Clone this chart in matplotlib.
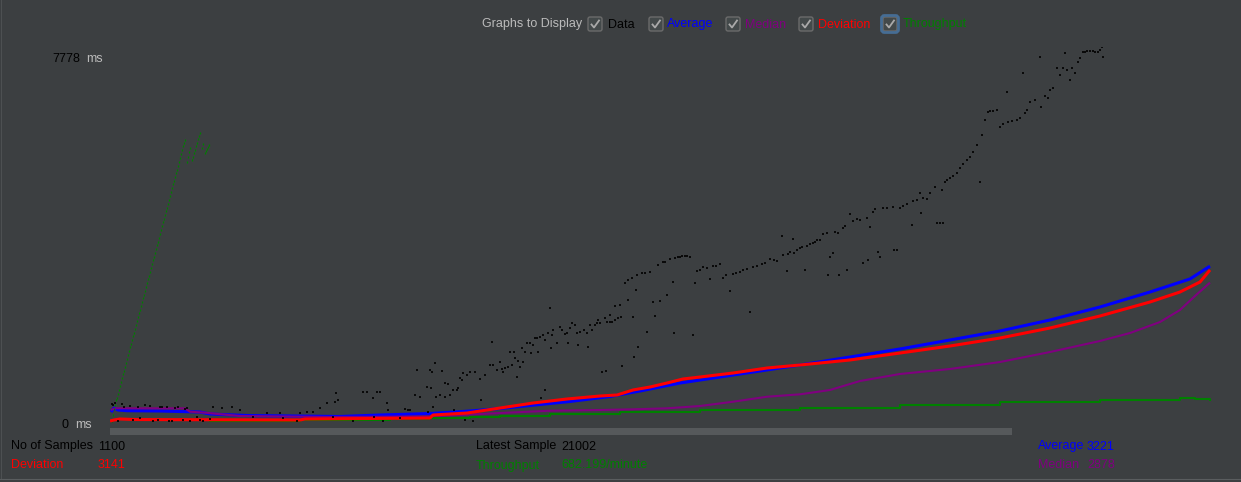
import matplotlib
matplotlib.use("Agg")
import matplotlib.pyplot as plt
from matplotlib.patches import FancyBboxPatch, Rectangle

plt.rcParams['font.family'] = ['Liberation Sans', 'DejaVu Sans']

# ---- data (sample index, response time in ms) ----
y_max = 7778
n_samples = 1100
latest_sample = 21002
throughput_txt = "682.199/minute"
avg_final = 3221
median_final = 2878
dev_final = 3141

data_idx = [2, 3, 5, 8, 12, 14, 20, 23, 28, 30, 35, 40, 43, 48, 50, 52, 57, 59, 62, 65,
            68, 73, 75, 77, 80, 87, 90, 93, 100, 103, 112, 122, 130, 143, 157, 170, 173, 187, 190, 197,
            203, 210, 217, 223, 225, 226, 228, 243, 253, 257, 263, 264, 267, 270, 273, 277, 278, 290, 295, 298,
            300, 305, 307, 310, 317, 318, 320, 321, 322, 323, 325, 326, 330, 332, 335, 338, 340, 343, 344, 347,
            350, 353, 355, 357, 360, 363, 370, 371, 375, 382, 383, 387, 390, 392, 395, 398, 400, 402, 404, 407,
            408, 410, 413, 415, 417, 420, 421, 425, 427, 428, 430, 431, 433, 435, 438, 440, 441, 443, 447, 450,
            455, 457, 458, 462, 465, 467, 468, 470, 477, 478, 482, 485, 487, 490, 492, 495, 496, 497, 500, 502,
            505, 508, 510, 511, 512, 515, 518, 522, 523, 524, 527, 528, 532, 535, 537, 543, 545, 550, 553, 557,
            560, 563, 564, 565, 568, 572, 575, 577, 580, 583, 585, 587, 593, 600, 603, 610, 613, 620, 623, 630,
            637, 640, 647, 655, 660, 667, 672, 673, 677, 678, 683, 684, 690, 692, 695, 697, 700, 703, 707, 710,
            713, 717, 718, 720, 723, 728, 729, 733, 737, 740, 743, 750, 753, 757, 758, 760, 765, 768, 770, 777,
            783, 784, 787, 790, 797, 802, 803, 807, 810, 811, 817, 820, 825, 827, 830, 833, 835, 837, 840, 847,
            853, 860, 867, 870, 872, 878, 880, 883, 887, 890, 897, 898, 907, 913, 915, 920, 930, 931, 938, 943,
            947, 950, 953, 955, 960, 962, 965, 970, 973, 977, 980, 983, 985, 988, 992, 993,
            335, 348, 352, 365, 380, 393, 405, 412, 423, 435, 442, 452, 460, 474, 480, 488, 500, 505, 518, 526,
            540, 548, 555, 570, 590, 597, 606, 616, 626, 633, 643, 652, 664, 680, 687,
            705, 725, 735, 747, 763, 773, 793, 813, 832, 843, 850, 857, 863, 875,
            893, 902, 910, 917, 925, 935, 940, 957, 968, 975, 990]
data_ms = [354, 333, 374, 0, 354, 291, 312, 21, 291, 62, 333, 312, 0, 21, 291, 291, 291, 0, 0, 270,
           291, 21, 250, 270, 0, 83, 21, 0, 42, 291, 270, 291, 229, 83, 166, 166, 62, 0, 166, 187,
           187, 270, 374, 83, 395, 582, 437, 0, 603, 603, 478, 83, 603, 603, 0, 374, 229, 62, 250, 229,
           229, 541, 1061, 499, 707, 187, 1061, 686, 1019, 291, 1206, 499, 541, 1040, 499, 770, 541, 645, 229, 645,
           894, 998, 21, 957, 1019, 0, 874, 437, 957, 1643, 1165, 1061, 1227, 1082, 1102, 1123, 1435, 1165, 1435, 915,
           1248, 1123, 1227, 1435, 1622, 1622, 1414, 1726, 1726, 1435, 1747, 478, 1789, 645, 1830, 2350, 1518, 1893, 1622, 1955,
           1810, 1830, 1622, 2038, 1997, 1830, 1581, 1851, 1830, 1539, 1893, 1997, 2038, 2038, 1019, 2142, 1040, 2059, 2059, 2059,
           2101, 2142, 2413, 2163, 1144, 2870, 2933, 2974, 2163, 1331, 3037, 1539, 3078, 3078, 1851, 2475, 2184, 2496, 3307, 2621,
           3370, 2891, 1830, 3390, 3411, 3432, 3432, 3432, 3411, 1789, 2870, 3120, 3203, 2954, 3224, 3266, 2974, 2704, 3058, 3099,
           3162, 2267, 3224, 3286, 3370, 3328, 3848, 3453, 3120, 3474, 3786, 3494, 3598, 3619, 3141, 3640, 3682, 3702, 3765, 3765,
           3890, 3910, 3037, 3411, 3494, 3910, 3037, 4014, 3141, 4306, 4160, 4181, 3286, 4222, 3349, 4035, 4410, 3515, 3411, 4430,
           4451, 3557, 3557, 4430, 4514, 4077, 4576, 4597, 4742, 4326, 4618, 4742, 4867, 4118, 4118, 4118, 4971, 5013, 5054, 5158,
           5346, 5491, 5741, 4971, 5949, 6427, 6448, 6448, 6469, 6115, 6843, 6219, 6261, 7238, 6406, 6635, 7571, 6531, 6718, 6926,
           7342, 7197, 7342, 7654, 7093, 7342, 7238, 7550, 7675, 7696, 7696, 7696, 7675, 7675, 7778, 7571,
           790, 686, 853, 1019, 1165, 1019, 1310, 1518, 1581, 1685, 1789, 1893, 1934, 1893, 1997, 2101, 2205, 2392, 2517, 2725,
           3099, 3245, 3307, 3411, 3141, 3182, 3224, 3037, 3078, 3141, 3203, 3266, 3349, 3515, 3557,
           3723, 3931, 4056, 4201, 4347, 4430, 4472, 4638, 4805, 5096, 5262, 5429, 5595, 6261,
           6177, 6240, 6302, 6469, 6677, 6760, 6885, 7301, 7467, 7675, 7717]

avg_idx = [1, 4, 8, 17, 50, 90, 100, 137, 230, 270, 320, 360, 390, 425, 460, 500, 530, 570,
           610, 650, 690, 740, 790, 840, 890, 940, 990, 1040, 1080, 1100]
avg_ms = [187, 270, 229, 214, 208, 187, 146, 114, 94, 125, 156, 208, 260, 333, 406, 510, 624, 790,
          915, 1040, 1165, 1331, 1498, 1685, 1872, 2101, 2371, 2683, 2954, avg_final]

med_idx = [1, 5, 75, 80, 95, 103, 130, 220, 320, 390, 440, 490, 523, 557, 590, 623, 657, 690,
           720, 750, 790, 840, 890, 940, 990, 1020, 1050, 1070, 1085, 1100]
med_ms = [229, 264, 264, 193, 173, 156, 104, 83, 94, 166, 214, 229, 243, 264, 312, 401, 505, 555,
          645, 832, 978, 1082, 1227, 1435, 1664, 1830, 2059, 2309, 2600, median_final]

dev_idx = [0, 4, 10, 25, 190, 195, 320, 323, 357, 390, 423, 457, 490, 507, 523, 540, 557, 573,
           590, 623, 657, 690, 740, 790, 840, 890, 940, 990, 1040, 1070, 1090, 1100]
dev_ms = [0, 21, 42, 31, 21, 42, 62, 125, 166, 270, 374, 458, 520, 541, 645, 707, 790, 874,
          915, 998, 1102, 1165, 1269, 1414, 1560, 1726, 1934, 2184, 2475, 2683, 2891, dev_final]

# throughput: early samples shown as separate dots, then a slow line
thr_dot_idx = list(range(2, 76)) + [77, 78, 79, 80, 82, 83, 84, 85, 86, 87, 88, 89, 90,
                                     92, 93, 95, 96, 97, 98, 99]
thr_dot_ms = [0, 120, 250, 330, 430, 470, 560, 650, 730, 810,
              890, 970, 1050, 1130, 1210, 1290, 1370, 1450, 1530, 1600,
              1680, 1760, 1840, 1920, 2000, 2080, 2160, 2240, 2310, 2390,
              2470, 2550, 2630, 2710, 2790, 2870, 2950, 3020, 3100, 3180,
              3260, 3340, 3420, 3500, 3580, 3660, 3730, 3810, 3890, 3970,
              4050, 4130, 4210, 4290, 4370, 4440, 4520, 4600, 4680, 4760,
              4840, 4920, 5000, 5080, 5160, 5230, 5310, 5390, 5470, 5550,
              5630, 5710, 5780, 5850,
              5387, 5491, 5595, 5678, 5429, 5491, 5575, 5637, 5720, 5782, 5866, 5928, 5990,
              5678, 5762, 5574, 5616, 5658, 5699, 5741]
thr_idx = [100, 145, 190, 230, 280, 320, 360, 390, 440, 510, 590, 690, 790, 890, 990, 1070, 1085, 1100]
thr_ms = [5, 10, 21, 31, 42, 69, 89, 104, 139, 181, 229, 270, 333, 385, 437, 478, 468, 437]

# ---- colours ----
BG = '#3c3f41'
LIGHT = '#bbbbbb'
BLUE = '#0000ff'
PURPLE = '#800080'
RED = '#ff0000'
GREEN = '#008000'

W, H = 1241, 482
fig = plt.figure(figsize=(W / 100, H / 100), dpi=100, facecolor=BG)

# UI layer in pixel coordinates
ui = fig.add_axes([0, 0, 1, 1])
ui.set_xlim(0, W)
ui.set_ylim(H, 0)
ui.axis('off')

# graph area: 0 ms at y=421 px, 7778 ms at y=47 px, one pixel per sample from x=110
ax = fig.add_axes([110 / W, (H - 425) / H, 1120 / W, 378 / H])
ax.set_facecolor('none')
ax.axis('off')
ax.set_xlim(0, 1120)
ax.set_ylim(-83, y_max)

ax.plot(avg_idx, avg_ms, color=BLUE, lw=2.2, solid_capstyle='butt', zorder=2)
ax.plot(med_idx, med_ms, color=PURPLE, lw=1.5, solid_capstyle='butt', zorder=2)
ax.plot(dev_idx, dev_ms, color=RED, lw=2.2, solid_capstyle='butt', zorder=3)
ax.plot(thr_idx, thr_ms, color=GREEN, lw=1.5, drawstyle='steps-post', zorder=2)
ax.plot(thr_dot_idx, thr_dot_ms, ls='none', marker='|', ms=1.5, mew=0.9, color=GREEN, zorder=2)
ax.plot(data_idx, data_ms, ls='none', marker='|', ms=2.0, mew=1.2, color='black', zorder=4)

# scroll bar and borders
ui.add_patch(Rectangle((110, 428), 902, 7, color='#56595b', lw=0))
ui.plot([0, W], [478.5, 478.5], color='#5a5d5f', lw=0.8)
ui.plot([0.5, 0.5], [0, 478], color='#4d5052', lw=0.8)

fs = 9
def txt(x, y, s, c):
    # y is the vertical middle of the capitals; draw on the baseline below it
    ui.text(x, y + 4.5, s, color=c, fontsize=fs, ha='left', va='baseline')

# header with check boxes
txt(482, 23, "Graphs to Display", LIGHT)
boxes = [(588, "Data", 'black', 608), (649, "Average", BLUE, 667), (726, "Median", PURPLE, 745),
         (799, "Deviation", RED, 818), (883, "Throughput", GREEN, 903)]
for bx, label, col, tx in boxes:
    ui.add_patch(FancyBboxPatch((bx, 17), 14, 14, boxstyle='round,pad=0,rounding_size=2',
                                fc='#43494a', ec='#6b6b6b', lw=1))
    ui.plot([bx + 3.5, bx + 6, bx + 11], [24.5, 27.5, 20.5], color='#a9a9a9', lw=1.3)
    txt(tx, 23, label, col)
ui.add_patch(FancyBboxPatch((881.5, 15.5), 17, 17, boxstyle='round,pad=0,rounding_size=3',
                            fc='none', ec='#466d94', lw=2))

# axis labels
txt(52, 57, str(y_max), 'black')
txt(86, 57, "ms", LIGHT)
txt(61, 423, "0", 'black')
txt(75, 423, "ms", LIGHT)

# stats rows
txt(11, 445, "No of Samples", 'black')
txt(98, 445, str(n_samples), 'black')
txt(11, 464, "Deviation", RED)
txt(98, 464, str(dev_final), RED)
txt(476, 445, "Latest Sample", 'black')
txt(561, 445, str(latest_sample), 'black')
txt(476, 464, "Throughput", GREEN)
txt(561, 464, throughput_txt, GREEN)
txt(1038, 445, "Average", BLUE)
txt(1087, 445, str(avg_final), BLUE)
txt(1038, 464, "Median", PURPLE)
txt(1087, 464, str(median_final), PURPLE)

fig.savefig("out.png", dpi=100, facecolor=BG)
